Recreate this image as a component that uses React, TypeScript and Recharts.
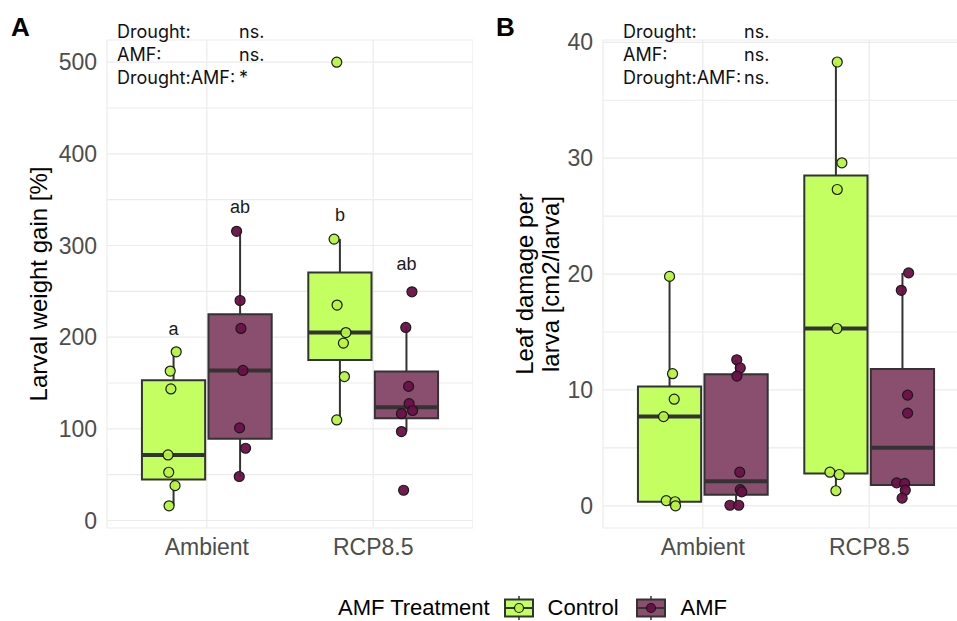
import React from 'react';
import { ComposedChart, Scatter, XAxis, YAxis, CartesianGrid, ReferenceArea, ReferenceLine } from 'recharts';

const categories = ['Ambient', 'RCP8.5'];
const treatments = ['Control', 'AMF'];

const BOX_FILL: Record<string, string> = { Control: '#c4ff62', AMF: '#8a4e6e' };
const POINT_FILL: Record<string, string> = { Control: '#b8f43f', AMF: '#6b0f48' };
const INK = '#333333';
const SANS = '"Liberation Sans", Arial, sans-serif';
const NOTE_FONT = 'Inter, "Noto Sans", sans-serif';

// Panel A: larval weight gain [%]
const weightAmbientControl = [184, 163, 143.5, 71.5, 52.6, 38, 16];
const weightAmbientControlJitter = [0.016, -0.02, -0.016, -0.033, -0.029, 0.009, -0.027];
const weightAmbientAmf = [315.5, 240, 209.5, 163.7, 101, 78.8, 48];
const weightAmbientAmfJitter = [-0.021, 0, 0.005, 0.017, -0.003, 0.033, -0.005];
const weightRcpControl = [500, 307, 235, 205, 193.5, 157, 109.7];
const weightRcpControlJitter = [-0.019, -0.035, -0.017, 0.036, 0.021, 0.027, -0.019];
const weightRcpAmf = [249.5, 210.6, 146.3, 127.5, 120, 116.5, 97, 33];
const weightRcpAmfJitter = [0.033, -0.004, 0.013, 0.016, 0.037, -0.03, -0.03, -0.017];
// [lower whisker, Q1, median, Q3, upper whisker]
const weightBoxes = [
  [16, 44.7, 71.5, 153, 184],
  [48, 89.3, 163.7, 225, 315.5],
  [109.7, 175, 205, 270.5, 307],
  [97, 111.4, 123.4, 162.6, 210.6],
];
const weightLetters = ['a', 'ab', 'b', 'ab'];
const weightLetterHeights = [209, 342, 333, 280];
const weightTicks = [0, 100, 200, 300, 400, 500];
const weightGrid = [0, 50, 100, 150, 200, 250, 300, 350, 400, 450, 500];
const weightDomain = [-8.2, 524.2];

// Panel B: leaf damage per larva [cm2/larva]
const damageAmbientControl = [19.8, 11.4, 9.2, 7.7, 0.45, 0.35, 0.0];
const damageAmbientControlJitter = [0, 0.018, 0.028, -0.036, -0.02, 0.033, 0.036];
const damageAmbientAmf = [12.6, 11.9, 11.2, 2.9, 1.4, 1.2, 0.05, 0.05];
const damageAmbientAmfJitter = [0.004, 0.025, 0.005, 0.022, 0.025, 0.034, -0.037, 0.016];
const damageRcpControl = [38.3, 29.6, 27.3, 15.3, 2.9, 2.7, 1.3];
const damageRcpControlJitter = [0.008, 0.036, 0.008, 0.006, -0.036, 0.02, 0];
const damageRcpAmf = [20.1, 18.6, 9.55, 8.0, 1.98, 1.93, 1.35, 0.66];
const damageRcpAmfJitter = [0.037, -0.007, 0.031, 0.031, -0.035, 0.013, 0.017, -0.002];
const damageBoxes = [
  [0, 0.35, 7.7, 10.3, 19.8],
  [0, 0.95, 2.13, 11.36, 12.6],
  [1.3, 2.79, 15.3, 28.5, 38.3],
  [0.66, 1.8, 5.0, 11.8, 20.1],
];
const damageTicks = [0, 10, 20, 30, 40];
const damageGrid = [0, 5, 10, 15, 20, 25, 30, 35, 40];
const damageDomain = [-1.915, 40.2];

const weightNotes = [['Drought:', 'ns.'], ['AMF:', 'ns.'], ['Drought:AMF:', '*']];
const damageNotes = [['Drought:', 'ns.'], ['AMF:', 'ns.'], ['Drought:AMF:', 'ns.']];

const DODGE = 0.2;
const HALF_BOX = 0.19;

type Group = { cat: number; trt: string; values: number[]; jitter: number[]; box: number[] };

const makeGroups = (sets: [number[], number[]][], boxes: number[][]): Group[] =>
  sets.map(([values, jitter], i) => ({
    cat: Math.floor(i / 2),
    trt: treatments[i % 2],
    values,
    jitter,
    box: boxes[i],
  }));

const weightGroups = makeGroups(
  [
    [weightAmbientControl, weightAmbientControlJitter],
    [weightAmbientAmf, weightAmbientAmfJitter],
    [weightRcpControl, weightRcpControlJitter],
    [weightRcpAmf, weightRcpAmfJitter],
  ],
  weightBoxes
);
const damageGroups = makeGroups(
  [
    [damageAmbientControl, damageAmbientControlJitter],
    [damageAmbientAmf, damageAmbientAmfJitter],
    [damageRcpControl, damageRcpControlJitter],
    [damageRcpAmf, damageRcpAmfJitter],
  ],
  damageBoxes
);

const centerOf = (g: Group) => g.cat + 1 + (g.trt === 'Control' ? -DODGE : DODGE);

const dot = (trt: string) => (props: any) => (
  <circle cx={props.cx} cy={props.cy} r={5} fill={POINT_FILL[trt]} stroke="#1a1a1a" strokeWidth={1.2} fillOpacity={0.95} />
);

const letterShape = (props: any) => (
  <text x={props.cx} y={props.cy} textAnchor="middle" dominantBaseline="central" fontSize={18} fontFamily={SANS} fill="#1a1a1a">
    {props.payload.label}
  </text>
);

const yTitle = (lines: string[], xs: number[]) => (props: any) => {
  const vb = props.viewBox || { y: 40, height: 488 };
  const cy = vb.y + vb.height / 2;
  return (
    <g>
      {lines.map((line, i) => (
        <text
          key={line}
          x={xs[i]}
          y={cy}
          transform={`rotate(-90, ${xs[i]}, ${cy})`}
          textAnchor="middle"
          dominantBaseline="central"
          fontSize={24}
          fontFamily={SANS}
          fill="#000"
        >
          {line}
        </text>
      ))}
    </g>
  );
};

interface PanelProps {
  groups: Group[];
  domain: number[];
  ticks: number[];
  grid: number[];
  width: number;
  yAxisWidth: number;
  titleLines: string[];
  titleX: number[];
  letters?: { x: number; y: number; label: string }[];
}

const Panel: React.FC<PanelProps> = ({ groups, domain, ticks, grid, width, yAxisWidth, titleLines, titleX, letters }) => (
  <ComposedChart width={width} height={568} margin={{ top: 40, right: 0, bottom: 0, left: 0 }}>
    <CartesianGrid stroke="#ebebeb" strokeWidth={1.2} />
    <XAxis
      type="number"
      dataKey="x"
      domain={[0.4, 2.6]}
      ticks={[1, 2]}
      tickFormatter={(v: number) => categories[v - 1]}
      axisLine={false}
      tickLine={false}
      tickMargin={5}
      height={40}
      allowDataOverflow
      tick={{ fontSize: 23, fill: '#4d4d4d', fontFamily: SANS }}
    />
    <YAxis
      type="number"
      dataKey="y"
      domain={domain}
      ticks={grid}
      interval={0}
      tickFormatter={(v: number) => (ticks.includes(v) ? String(v) : '')}
      axisLine={false}
      tickLine={false}
      tickMargin={4}
      width={yAxisWidth}
      allowDataOverflow
      tick={{ fontSize: 23, fill: '#4d4d4d', fontFamily: SANS }}
      label={yTitle(titleLines, titleX)}
    />
    {groups.map((g, i) => (
      <ReferenceArea
        key={`box-${i}`}
        x1={centerOf(g) - HALF_BOX}
        x2={centerOf(g) + HALF_BOX}
        y1={g.box[1]}
        y2={g.box[3]}
        fill={BOX_FILL[g.trt]}
        fillOpacity={1}
        stroke={INK}
        strokeWidth={2}
      />
    ))}
    {groups.map((g, i) => (
      <ReferenceLine
        key={`wl-${i}`}
        segment={[{ x: centerOf(g), y: g.box[0] }, { x: centerOf(g), y: g.box[1] }]}
        stroke={INK}
        strokeWidth={2}
      />
    ))}
    {groups.map((g, i) => (
      <ReferenceLine
        key={`wh-${i}`}
        segment={[{ x: centerOf(g), y: g.box[3] }, { x: centerOf(g), y: g.box[4] }]}
        stroke={INK}
        strokeWidth={2}
      />
    ))}
    {groups.map((g, i) => (
      <ReferenceLine
        key={`med-${i}`}
        segment={[{ x: centerOf(g) - HALF_BOX, y: g.box[2] }, { x: centerOf(g) + HALF_BOX, y: g.box[2] }]}
        stroke={INK}
        strokeWidth={4}
      />
    ))}
    {treatments.map((trt) => (
      <Scatter
        key={trt}
        name={trt}
        isAnimationActive={false}
        data={groups
          .filter((g) => g.trt === trt)
          .flatMap((g) => g.values.map((v, j) => ({ x: centerOf(g) + g.jitter[j], y: v })))}
        shape={dot(trt)}
      />
    ))}
    {letters && <Scatter name="letters" isAnimationActive={false} data={letters} shape={letterShape} />}
  </ComposedChart>
);

const Notes: React.FC<{ rows: string[][]; left: number; gap: number }> = ({ rows, left, gap }) => (
  <div style={{ position: 'absolute', left, top: 20, fontFamily: NOTE_FONT, fontSize: 18, lineHeight: '23px', color: '#111' }}>
    {rows.map(([k, v]) => (
      <div key={k} style={{ display: 'flex' }}>
        <span style={{ width: gap }}>{k}</span>
        <span>{v}</span>
      </div>
    ))}
  </div>
);

const KeyGlyph: React.FC<{ trt: string }> = ({ trt }) => (
  <svg width={30} height={24} style={{ display: 'block' }}>
    <line x1={15} y1={0} x2={15} y2={24} stroke={INK} strokeWidth={1.5} />
    <rect x={1} y={3.5} width={28} height={17} fill={BOX_FILL[trt]} stroke={INK} strokeWidth={2} />
    <line x1={1} y1={12} x2={29} y2={12} stroke={INK} strokeWidth={2} />
    <circle cx={15} cy={12} r={4.5} fill={POINT_FILL[trt]} stroke="#1a1a1a" strokeWidth={1.2} />
  </svg>
);

const App: React.FC = () => {
  const weightLetterData = weightGroups.map((g, i) => ({ x: centerOf(g), y: weightLetterHeights[i], label: weightLetters[i] }));
  return (
    <div style={{ position: 'absolute', left: 0, top: 0, width: 957, height: 621, background: '#fff', overflow: 'hidden' }}>
      <div style={{ position: 'absolute', left: 0, top: 0 }}>
        <Panel
          groups={weightGroups}
          domain={weightDomain}
          ticks={weightTicks}
          grid={weightGrid}
          width={473}
          yAxisWidth={107}
          titleLines={['Larval weight gain [%]']}
          titleX={[38]}
          letters={weightLetterData}
        />
      </div>
      <div style={{ position: 'absolute', left: 480, top: 0, width: 477, height: 568, overflow: 'hidden' }}>
        <Panel
          groups={damageGroups}
          domain={damageDomain}
          ticks={damageTicks}
          grid={damageGrid}
          width={489}
          yAxisWidth={123}
          titleLines={['Leaf damage per', 'larva [cm2/larva]']}
          titleX={[44, 70]}
        />
      </div>
      <div style={{ position: 'absolute', left: 11, top: 12, fontFamily: SANS, fontWeight: 700, fontSize: 26 }}>A</div>
      <div style={{ position: 'absolute', left: 496, top: 12, fontFamily: SANS, fontWeight: 700, fontSize: 26 }}>B</div>
      <Notes rows={weightNotes} left={117} gap={122} />
      <Notes rows={damageNotes} left={623} gap={121} />
      <div
        style={{
          position: 'absolute',
          left: 338,
          top: 596,
          height: 24,
          display: 'flex',
          alignItems: 'center',
          fontFamily: SANS,
          fontSize: 22,
          lineHeight: '18px',
          color: '#000',
        }}
      >
        <span style={{ marginRight: 14 }}>AMF Treatment</span>
        <KeyGlyph trt="Control" />
        <span style={{ marginLeft: 14, marginRight: 17 }}>Control</span>
        <KeyGlyph trt="AMF" />
        <span style={{ marginLeft: 15 }}>AMF</span>
      </div>
    </div>
  );
};

export default App;
